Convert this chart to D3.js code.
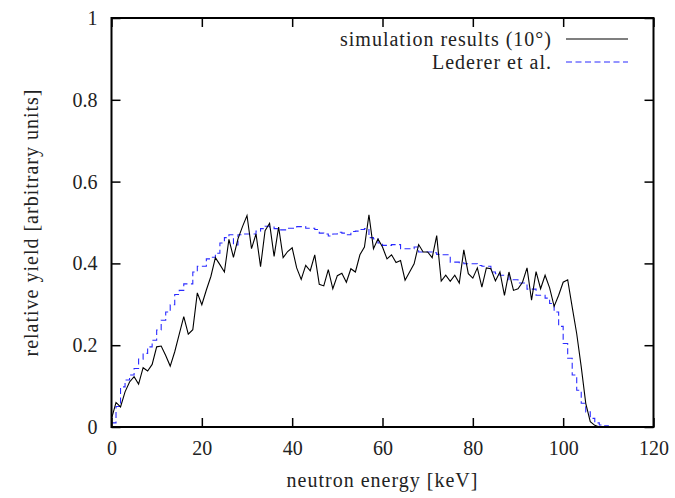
<!DOCTYPE html>
<html><head><meta charset="utf-8">
<script src="https://cdn.jsdelivr.net/npm/d3@7"></script>
<style>
body{margin:0;background:#fff;}
svg text{font-family:'Liberation Serif',serif;}
</style></head>
<body><svg id="c" width="675" height="498"></svg>
<script>
// Simulation results (10°): value at energies 0,1,2,... keV
const simStart = 0;
const simValues = [0.02,0.06,0.049,0.086,0.11,0.123,0.105,0.145,0.137,0.153,
0.196,0.198,0.175,0.149,0.184,0.227,0.27,0.227,0.238,0.328,
0.299,0.335,0.368,0.414,0.397,0.379,0.459,0.415,0.46,0.49,
0.517,0.436,0.472,0.392,0.48,0.498,0.417,0.489,0.414,0.429,
0.438,0.389,0.361,0.395,0.382,0.421,0.349,0.345,0.385,0.338,
0.37,0.376,0.354,0.387,0.379,0.421,0.44,0.519,0.436,0.46,
0.44,0.411,0.421,0.402,0.407,0.359,0.379,0.399,0.446,0.428,
0.428,0.414,0.468,0.357,0.371,0.356,0.371,0.352,0.433,0.375,
0.364,0.389,0.342,0.389,0.387,0.357,0.379,0.322,0.379,0.334,
0.338,0.354,0.389,0.31,0.38,0.338,0.371,0.34,0.295,0.322,
0.354,0.36,0.293,0.228,0.147,0.058,0.013,0.004,0,0,
0,0,0,0,0,0,0,0,0,0,0];
// Lederer et al.: histogram, bin k covers [k, k+1) keV
const ledValues = [0.01,0.05,0.098,0.115,0.127,0.143,0.166,0.18,0.196,0.212,
0.237,0.261,0.281,0.299,0.324,0.334,0.35,0.35,0.379,0.393,
0.393,0.411,0.415,0.425,0.45,0.463,0.47,0.445,0.47,0.472,
0.472,0.472,0.479,0.485,0.491,0.489,0.485,0.482,0.482,0.486,
0.486,0.49,0.49,0.486,0.486,0.483,0.474,0.472,0.467,0.472,
0.476,0.474,0.47,0.478,0.479,0.483,0.485,0.463,0.46,0.45,
0.444,0.444,0.446,0.446,0.436,0.436,0.436,0.44,0.428,0.428,
0.428,0.426,0.422,0.421,0.421,0.403,0.403,0.402,0.399,0.399,
0.399,0.395,0.393,0.393,0.379,0.375,0.371,0.371,0.36,0.36,
0.352,0.352,0.337,0.337,0.322,0.322,0.315,0.302,0.281,0.246,
0.204,0.168,0.127,0.09,0.058,0.037,0.021,0.01,0.005,0.003,
0,0,0,0,0,0,0,0,0,0];
const xTicks = [0,20,40,60,80,100,120];
const yTicks = [0,0.2,0.4,0.6,0.8,1];
const yTickLabels = ["0","0.2","0.4","0.6","0.8","1"];
const seriesNames = ["simulation results (10°)","Lederer et al."];
const xTitle = "neutron energy [keV]";
const yTitle = "relative yield [arbitrary units]";

const FONT = "Liberation Serif";
const FS = 20;
const LS = "1px";
const svg = d3.select("#c");
const L=111.5, R=653.5, T=18, B=427;
const x = d3.scaleLinear().domain([0,120]).range([L,R]);
const y = d3.scaleLinear().domain([0,1]).range([B,T]);

const simPts = simValues.map((v,i)=>[simStart+i, v]);
const ledPts = ledValues.map((v,i)=>[i, v]);
ledPts.push([ledValues.length, ledValues[ledValues.length-1]]);

svg.append("clipPath").attr("id","cp").append("rect")
  .attr("x",L).attr("y",T).attr("width",R-L).attr("height",B-T);

svg.append("path").datum(ledPts)
  .attr("clip-path","url(#cp)")
  .attr("d", d3.line().x(d=>x(d[0])).y(d=>y(d[1])).curve(d3.curveStepAfter))
  .attr("fill","none").attr("stroke","#2b2bff").attr("stroke-width",1.1)
  .attr("stroke-dasharray","6,3.5");
svg.append("path").datum(simPts)
  .attr("clip-path","url(#cp)")
  .attr("d", d3.line().x(d=>x(d[0])).y(d=>y(d[1])))
  .attr("fill","none").attr("stroke","#000").attr("stroke-width",1.1);

const tl = 9;
const gB = svg.append("g").attr("transform",`translate(0,${B})`)
  .call(d3.axisBottom(x).tickValues(xTicks).tickSizeInner(-tl).tickSizeOuter(0).tickPadding(14));
const gT = svg.append("g").attr("transform",`translate(0,${T})`)
  .call(d3.axisTop(x).tickValues(xTicks).tickSizeInner(-tl).tickSizeOuter(0).tickFormat(""));
const gL = svg.append("g").attr("transform",`translate(${L},0)`)
  .call(d3.axisLeft(y).tickValues(yTicks).tickSizeInner(-tl).tickSizeOuter(0).tickPadding(14)
    .tickFormat((d,i)=>yTickLabels[i]));
const gR = svg.append("g").attr("transform",`translate(${R},0)`)
  .call(d3.axisRight(y).tickValues(yTicks).tickSizeInner(-tl).tickSizeOuter(0).tickFormat(""));
[gB,gT,gL,gR].forEach(g=>{
  g.attr("font-family",FONT).attr("font-size",FS);
  g.select(".domain").remove();
  g.selectAll(".tick line").attr("stroke","#000").attr("stroke-width",1.5);
  g.selectAll("text").attr("fill","#222").attr("font-family",FONT);
});

svg.append("rect").attr("x",L).attr("y",T).attr("width",R-L).attr("height",B-T)
  .attr("fill","none").attr("stroke","#000").attr("stroke-width",2);

svg.append("text").attr("x",(L+R)/2).attr("y",487).attr("text-anchor","middle")
  .attr("font-family",FONT).attr("font-size",FS).attr("letter-spacing",LS)
  .attr("fill","#222").text(xTitle);
svg.append("text").attr("transform",`translate(38,${(T+B)/2}) rotate(-90)`)
  .attr("text-anchor","middle").attr("font-family",FONT).attr("font-size",FS)
  .attr("letter-spacing",LS).attr("fill","#222").text(yTitle);

const leg = [{name:seriesNames[0], color:"#000", dash:null, yy:39},
             {name:seriesNames[1], color:"#2b2bff", dash:"6,3.5", yy:62}];
leg.forEach(d=>{
  svg.append("text").attr("x",552).attr("y",d.yy+7).attr("text-anchor","end")
    .attr("font-family",FONT).attr("font-size",FS).attr("letter-spacing",LS)
    .attr("fill","#222").text(d.name);
  svg.append("line").attr("x1",566).attr("x2",628).attr("y1",d.yy).attr("y2",d.yy)
    .attr("stroke",d.color).attr("stroke-width",1.1).attr("stroke-dasharray",d.dash);
});
</script></body></html>
